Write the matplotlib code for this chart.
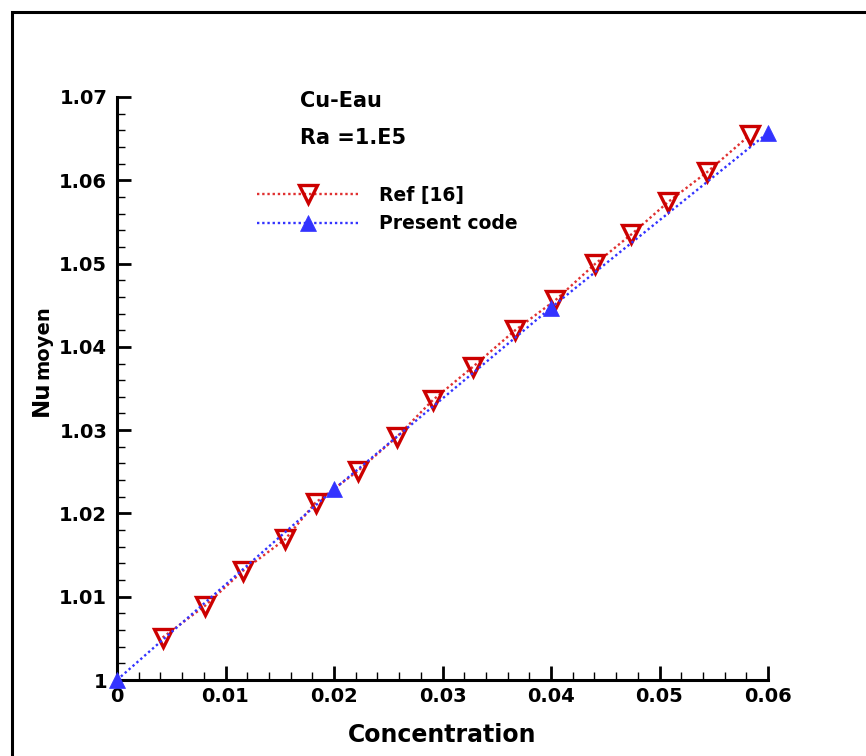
import matplotlib
matplotlib.use("Agg")
import matplotlib.pyplot as plt
from matplotlib.patches import Rectangle
from matplotlib.ticker import MultipleLocator

# data
ref_x = [0.0042, 0.0081, 0.0116, 0.0155, 0.0183, 0.0222, 0.0258, 0.0291,
         0.0328, 0.0367, 0.0404, 0.0441, 0.0474, 0.0508, 0.0544, 0.0583]
ref_nu = [1.0051, 1.0089, 1.0131, 1.0169, 1.0213, 1.0251, 1.0292, 1.0336,
          1.0376, 1.0420, 1.0456, 1.0500, 1.0535, 1.0574, 1.0610, 1.0654]
code_x = [0.0, 0.02, 0.04, 0.06]
code_nu = [1.0, 1.0229, 1.0447, 1.0657]

xticks = [0, 0.01, 0.02, 0.03, 0.04, 0.05, 0.06]
xtick_labels = ["0", "0.01", "0.02", "0.03", "0.04", "0.05", "0.06"]
yticks = [1, 1.01, 1.02, 1.03, 1.04, 1.05, 1.06, 1.07]
ytick_labels = ["1", "1.01", "1.02", "1.03", "1.04", "1.05", "1.06", "1.07"]

W, H = 866, 756
plt.rcParams["font.family"] = "DejaVu Sans"
plt.rcParams["font.weight"] = "bold"

fig = plt.figure(figsize=(W / 100, H / 100), dpi=100)
ax = fig.add_axes([117 / W, (H - 680) / H, (768 - 117) / W, (680 - 97) / H])

red = "#cc0000"
blue = "#3333ff"

ax.plot(ref_x, ref_nu, linestyle=(0, (1, 1.2)), color="#e03030", lw=1.7,
        marker="v", ms=12.5, mfc="none", mec=red, mew=2.4,
        label="Ref [16]", clip_on=False, zorder=3)
ax.plot(code_x, code_nu, linestyle=(0, (1, 1.2)), color=blue, lw=1.7,
        marker="^", ms=12, mfc=blue, mec=blue, mew=0.5,
        label="Present code", clip_on=False, zorder=4)

ax.set_xlim(0, 0.06)
ax.set_ylim(1, 1.07)
ax.set_xticks(xticks)
ax.set_xticklabels(xtick_labels)
ax.set_yticks(yticks)
ax.set_yticklabels(ytick_labels)
ax.xaxis.set_minor_locator(MultipleLocator(0.002))
ax.yaxis.set_minor_locator(MultipleLocator(0.002))

ax.spines["top"].set_visible(False)
ax.spines["right"].set_visible(False)
for s in ["left", "bottom"]:
    ax.spines[s].set_linewidth(2.2)
ax.tick_params(which="major", direction="in", length=10, width=2,
               labelsize=14, pad=5)
ax.tick_params(which="minor", direction="in", length=6, width=1)
ax.tick_params(axis="y", which="major", pad=7)

ax.set_xlabel("Concentration", fontsize=17, fontweight="bold", labelpad=12)

# y label: "Nu" with smaller "moyen" on the same baseline
fig.text(48 / W, (H - 416) / H, "Nu", rotation=90, rotation_mode="anchor",
         ha="left", va="baseline", fontsize=16.5, fontweight="bold")
fig.text(48 / W, (H - 379) / H, "moyen", rotation=90, rotation_mode="anchor",
         ha="left", va="baseline", fontsize=14, fontweight="bold")

fig.text(300 / W, (H - 107) / H, "Cu-Eau", fontsize=15, fontweight="bold",
         va="baseline")
fig.text(300 / W, (H - 144) / H, "Ra =1.E5", fontsize=15, fontweight="bold",
         va="baseline")

leg = ax.legend(loc="upper left", bbox_to_anchor=(257 / W, (H - 186) / H),
                bbox_transform=fig.transFigure, frameon=False,
                fontsize=13.5, handlelength=5.4, handletextpad=1.1,
                labelspacing=0.5, borderpad=0, borderaxespad=0, numpoints=1)
for t in leg.get_texts():
    t.set_fontweight("bold")

# outer frame of the picture
fig.add_artist(Rectangle((12 / W, -0.1), 2, (H - 12) / H + 0.1,
                         transform=fig.transFigure, fill=False,
                         lw=2.2, ec="black"))

fig.savefig("out.png", dpi=100)
